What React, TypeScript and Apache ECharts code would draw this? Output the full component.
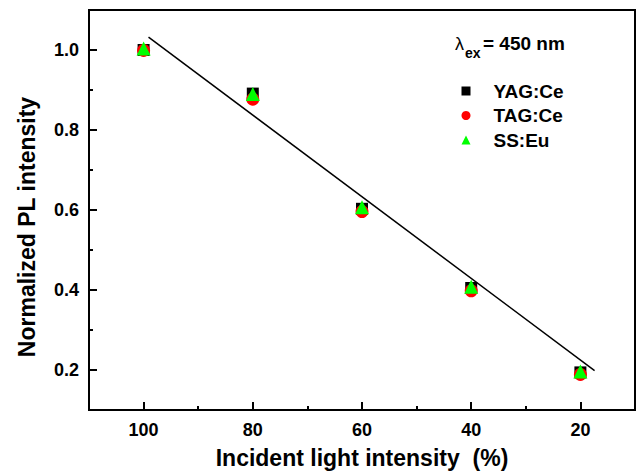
import React, { useEffect, useRef } from "react";
import * as echarts from "echarts";

const xValues = [100, 80, 60, 40, 20];
const yagCe = [1.0, 0.891, 0.603, 0.405, 0.194];
const tagCe = [0.999, 0.877, 0.596, 0.398, 0.189];
const ssEu = [1.004, 0.89, 0.607, 0.408, 0.196];
const fitLine: [number, number][] = [
  [99.1, 1.032],
  [17.4, 0.1985],
];
const xMajorTicks = [100, 80, 60, 40, 20];
const xMinorTicks = [90, 70, 50, 30];
const yMajorTicks = [0.2, 0.4, 0.6, 0.8, 1.0];
const yMinorTicks = [0.3, 0.5, 0.7, 0.9];

const FONT = '"Liberation Sans", Arial, Helvetica, sans-serif';

export default function App() {
  const ref = useRef<HTMLDivElement>(null);
  useEffect(() => {
    if (!ref.current) return;
    const chart = echarts.init(ref.current, undefined, { renderer: "svg" });
    const pairs = (ys: number[]) => xValues.map((x, i) => [x, ys[i]]);
    const labelStyle = {
      color: "#000",
      fontFamily: FONT,
      fontWeight: "bold" as const,
      fontSize: 18,
    };
    chart.setOption({
      animation: false,
      backgroundColor: "#fff",
      grid: {
        left: 89,
        right: 2,
        top: 10,
        bottom: 62,
        show: true,
        borderColor: "#000",
        borderWidth: 2,
        backgroundColor: "transparent",
      },
      xAxis: [
        {
          type: "value",
          min: 10,
          max: 110,
          inverse: true,
          position: "bottom",
          name: "Incident light intensity  (%)",
          nameLocation: "middle",
          nameGap: 36,
          nameTextStyle: { ...labelStyle, fontSize: 23 },
          axisLine: { show: true, lineStyle: { color: "#000", width: 2 } },
          axisTick: {
            show: true,
            inside: true,
            length: 8,
            customValues: xMajorTicks,
            lineStyle: { color: "#000", width: 2 },
          },
          axisLabel: {
            ...labelStyle,
            margin: 11,
            customValues: xMajorTicks,
            formatter: (v: number) => String(v),
          },
          splitLine: { show: false },
        },
        {
          type: "value",
          min: 10,
          max: 110,
          inverse: true,
          position: "bottom",
          axisLine: { show: false },
          axisTick: {
            show: true,
            inside: true,
            length: 4,
            customValues: xMinorTicks,
            lineStyle: { color: "#000", width: 2 },
          },
          axisLabel: { show: false },
          splitLine: { show: false },
        },
      ],
      yAxis: [
        {
          type: "value",
          min: 0.1,
          max: 1.1,
          position: "left",
          axisLine: { show: true, lineStyle: { color: "#000", width: 2 } },
          axisTick: {
            show: true,
            inside: true,
            length: 8,
            customValues: yMajorTicks,
            lineStyle: { color: "#000", width: 2 },
          },
          axisLabel: {
            ...labelStyle,
            margin: 10,
            customValues: yMajorTicks,
            formatter: (v: number) => v.toFixed(1),
          },
          splitLine: { show: false },
        },
        {
          type: "value",
          min: 0.1,
          max: 1.1,
          position: "left",
          axisLine: { show: false },
          axisTick: {
            show: true,
            inside: true,
            length: 4,
            customValues: yMinorTicks,
            lineStyle: { color: "#000", width: 2 },
          },
          axisLabel: { show: false },
          splitLine: { show: false },
        },
      ],
      legend: {
        orient: "vertical",
        left: 456.5,
        top: 76.5,
        itemWidth: 9,
        itemHeight: 9,
        itemGap: 5.5,
        textStyle: {
          color: "#000",
          fontFamily: FONT,
          fontWeight: "bold",
          fontSize: 19,
          padding: [0, 0, 0, 18],
        },
        data: ["YAG:Ce", "TAG:Ce", "SS:Eu"],
      },
      graphic: [
        {
          type: "text",
          x: 27,
          y: 227,
          rotation: Math.PI / 2,
          style: {
            text: "Normalized PL intensity",
            fill: "#000",
            font: `bold 23px ${FONT}`,
            align: "center",
            verticalAlign: "middle",
          },
        },
        {
          type: "text",
          x: 455,
          y: 44,
          style: {
            text: "λ",
            fill: "#000",
            font: `18px ${FONT}`,
            align: "left",
            verticalAlign: "middle",
          },
        },
        {
          type: "text",
          x: 465,
          y: 53,
          style: {
            text: "ex",
            fill: "#000",
            font: `bold 14px ${FONT}`,
            align: "left",
            verticalAlign: "middle",
          },
        },
        {
          type: "text",
          x: 483,
          y: 43.5,
          style: {
            text: "= 450 nm",
            fill: "#000",
            font: `bold 19px ${FONT}`,
            align: "left",
            verticalAlign: "middle",
          },
        },
      ],
      series: [
        {
          name: "Fit",
          type: "line",
          data: fitLine,
          symbol: "none",
          lineStyle: { color: "#000", width: 1.5 },
          silent: true,
          z: 1,
        },
        {
          name: "YAG:Ce",
          type: "scatter",
          data: pairs(yagCe),
          symbol: "rect",
          symbolSize: 12,
          itemStyle: { color: "#000", opacity: 1 },
          z: 2,
        },
        {
          name: "TAG:Ce",
          type: "scatter",
          data: pairs(tagCe),
          symbol: "circle",
          symbolSize: 13,
          itemStyle: { color: "#ff0000", opacity: 1 },
          z: 3,
        },
        {
          name: "SS:Eu",
          type: "scatter",
          data: pairs(ssEu),
          symbol: "triangle",
          symbolSize: 14,
          itemStyle: { color: "#00ff00", opacity: 1 },
          z: 4,
        },
      ],
    });
    return () => chart.dispose();
  }, []);
  return (
    <div
      ref={ref}
      style={{ position: "absolute", left: 0, top: 0, width: 637, height: 474 }}
    />
  );
}
